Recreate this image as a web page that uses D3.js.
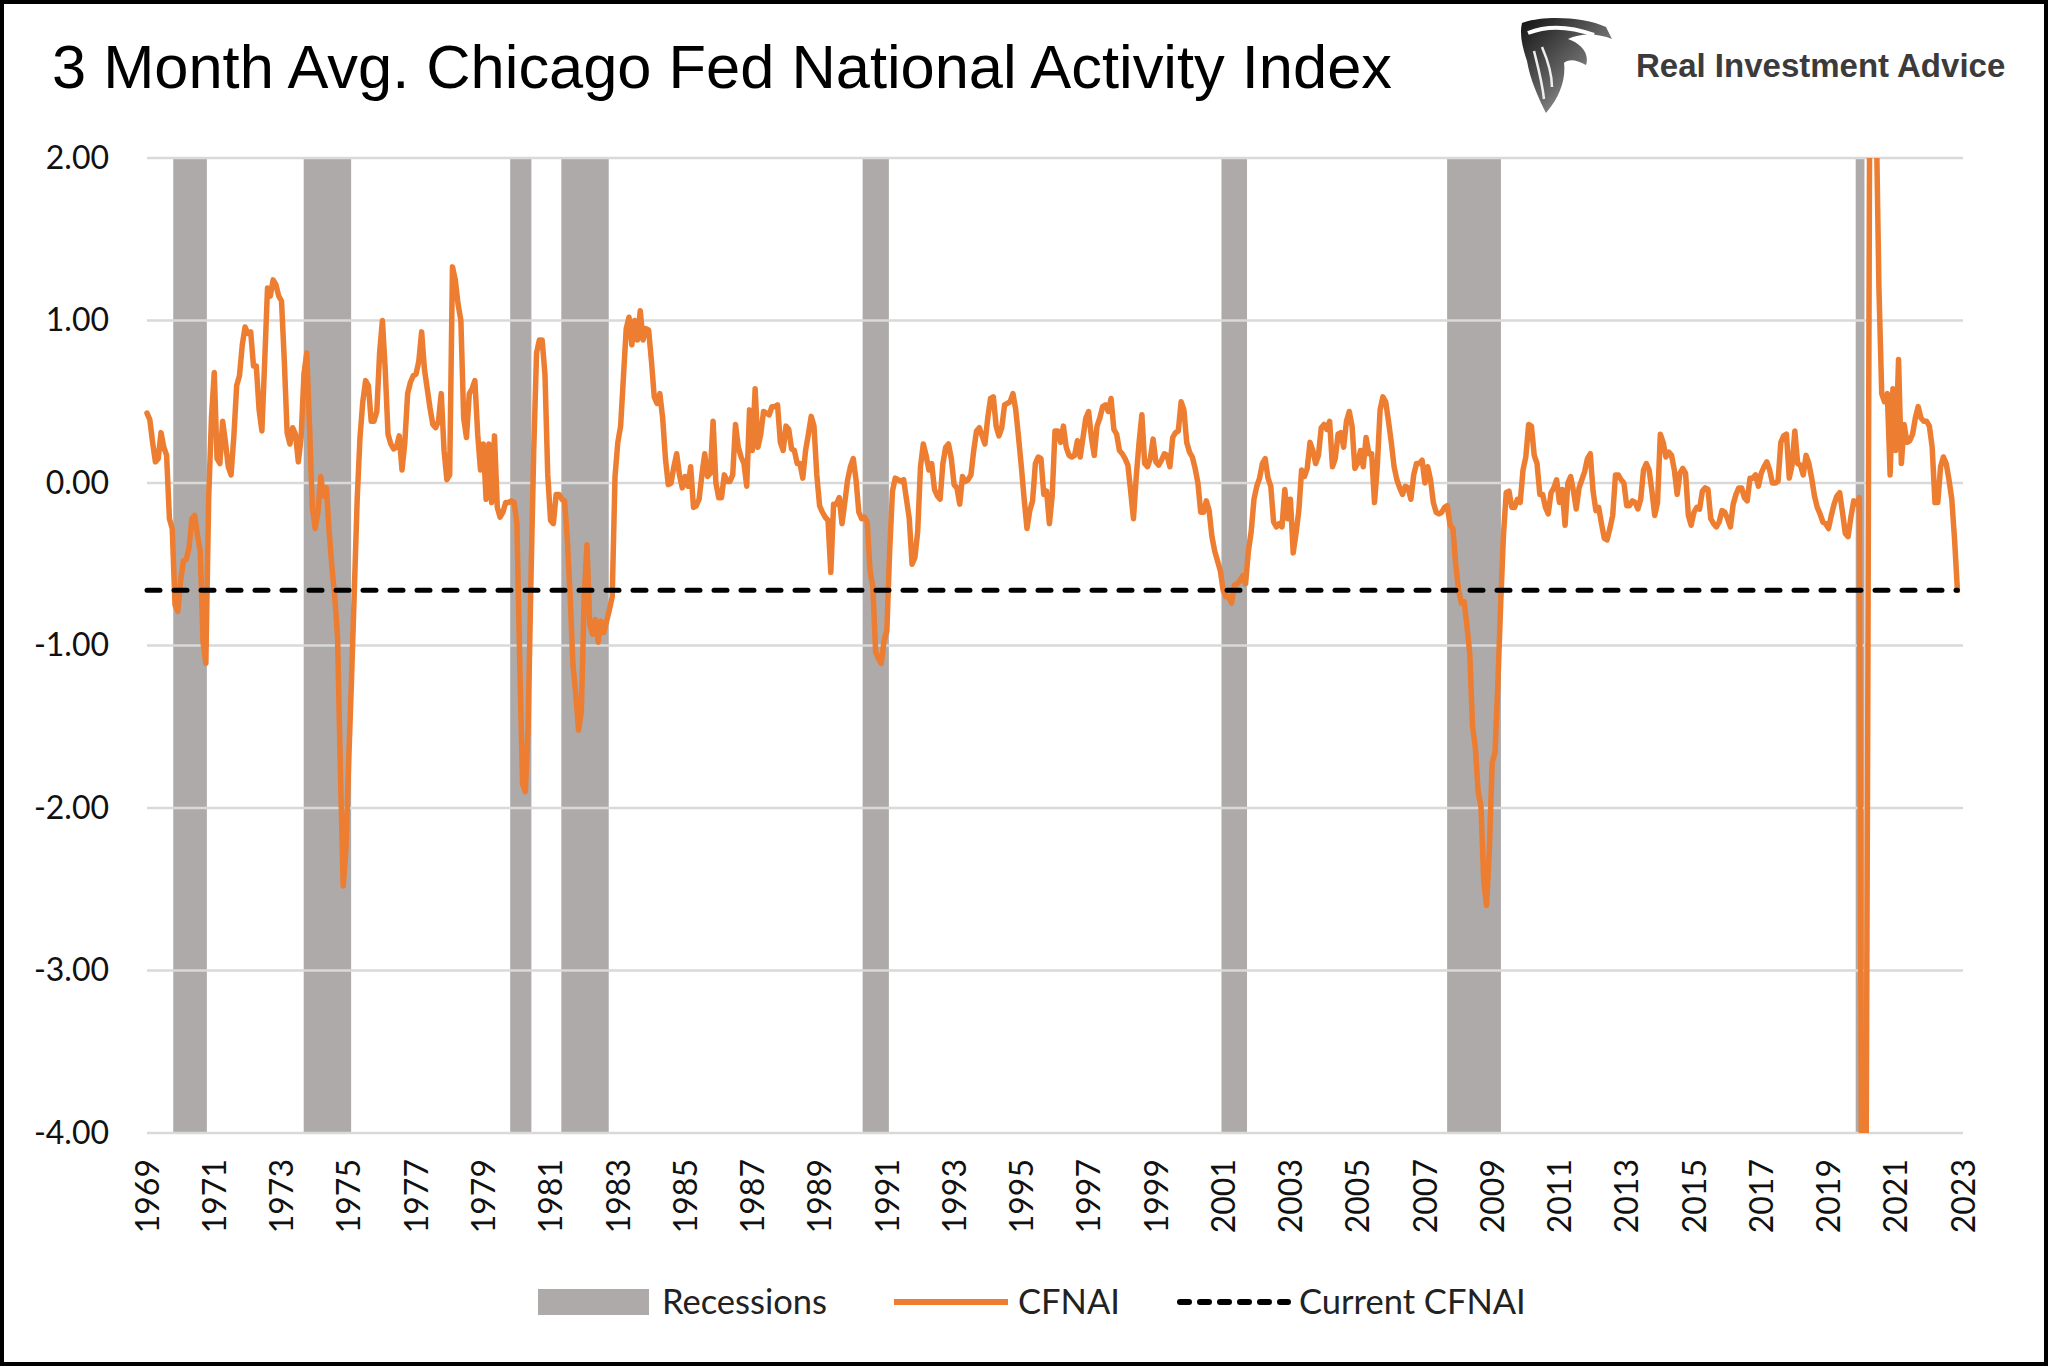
<!DOCTYPE html>
<html><head><meta charset="utf-8">
<script src="https://cdn.jsdelivr.net/npm/d3@7"></script>
<style>html,body{margin:0;padding:0;background:#fff}</style>
</head><body>
<svg id="chart" width="2048" height="1366"></svg>
<script>
// ---------- DATA ----------
const startYear = 1969; // monthly CFNAI 3-month average, first point Jan 1969
const cfnai1969_1977 = [
0.43,0.39,0.25,0.13,0.15,0.31,0.22,0.17,-0.22,-0.28,
-0.75,-0.79,-0.60,-0.48,-0.47,-0.40,-0.22,-0.20,-0.32,-0.42,
-0.98,-1.11,-0.10,0.40,0.68,0.15,0.12,0.38,0.25,0.10,
0.05,0.29,0.60,0.66,0.85,0.96,0.92,0.93,0.72,0.72,
0.45,0.32,0.75,1.20,1.15,1.25,1.22,1.15,1.12,0.75,
0.31,0.24,0.34,0.30,0.13,0.28,0.67,0.80,0.35,-0.15,
-0.28,-0.18,0.04,-0.08,-0.03,-0.30,-0.52,-0.70,-0.95,-1.76,
-2.48,-2.25,-1.70,-1.20,-0.65,-0.10,0.28,0.50,0.63,0.60,
0.38,0.38,0.44,0.80,1.00,0.70,0.30,0.24,0.21,0.22,
0.29,0.08,0.25,0.55,0.62,0.66,0.67,0.75,0.93,0.70,
0.58,0.46,0.36,0.34,0.38,0.55,0.20,0.02];
const cfnai1978_1986 = [
0.05,1.33,1.25,1.10,1.00,0.40,0.28,0.55,0.58,0.63,
0.30,0.08,0.24,-0.10,0.24,-0.12,0.29,-0.15,-0.21,-0.18,
-0.12,-0.12,-0.11,-0.12,-0.25,-1.10,-1.85,-1.90,-1.50,-0.60,
0.20,0.80,0.88,0.88,0.67,0.05,-0.23,-0.25,-0.07,-0.07,
-0.10,-0.11,-0.35,-0.70,-1.12,-1.30,-1.52,-1.40,-0.70,-0.38,
-0.87,-0.93,-0.84,-0.98,-0.85,-0.92,-0.85,-0.78,-0.70,0.04,
0.25,0.35,0.65,0.95,1.02,0.85,1.00,0.88,1.06,0.88,
0.95,0.94,0.75,0.53,0.49,0.55,0.40,0.15,-0.01,0.00,
0.10,0.18,0.05,-0.03,0.04,-0.02,0.10,-0.15,-0.14,-0.10,
0.05,0.18,0.04,0.06,0.38,0.00,-0.09,-0.09,0.05,0.01,
0.01,0.05,0.36,0.22,0.16,0.12,-0.02,0.45];
const cfnai1987_1995 = [
0.20,0.58,0.22,0.30,0.44,0.43,0.42,0.47,0.47,0.48,
0.25,0.20,0.35,0.33,0.21,0.20,0.12,0.12,0.03,0.20,
0.30,0.41,0.35,0.05,-0.14,-0.18,-0.21,-0.23,-0.55,-0.13,
-0.13,-0.09,-0.25,-0.12,0.02,0.10,0.15,0.02,-0.18,-0.22,
-0.21,-0.24,-0.54,-0.64,-1.04,-1.08,-1.11,-0.97,-0.91,-0.42,
-0.05,0.03,0.02,0.01,0.02,-0.10,-0.22,-0.50,-0.46,-0.30,
0.10,0.24,0.17,0.08,0.12,-0.04,-0.08,-0.10,0.12,0.22,
0.24,0.15,-0.01,-0.03,-0.13,0.04,0.01,0.02,0.05,0.20,
0.32,0.34,0.29,0.24,0.40,0.52,0.53,0.35,0.29,0.34,
0.48,0.49,0.50,0.55,0.45,0.28,0.10,-0.10,-0.28,-0.17,
-0.11,0.12,0.16,0.15,-0.07,-0.05,-0.25,-0.08];
const cfnai1996_2004 = [
0.32,0.32,0.25,0.35,0.22,0.17,0.16,0.17,0.26,0.16,
0.28,0.40,0.44,0.28,0.17,0.35,0.40,0.47,0.48,0.44,
0.52,0.33,0.30,0.20,0.18,0.15,0.11,-0.05,-0.22,0.04,
0.25,0.42,0.12,0.10,0.15,0.27,0.13,0.11,0.14,0.18,
0.17,0.10,0.28,0.31,0.32,0.50,0.45,0.25,0.19,0.16,
0.09,0.00,-0.18,-0.18,-0.11,-0.17,-0.33,-0.42,-0.48,-0.54,
-0.66,-0.70,-0.70,-0.74,-0.63,-0.62,-0.60,-0.57,-0.62,-0.42,
-0.30,-0.10,-0.02,0.03,0.12,0.15,0.03,-0.02,-0.24,-0.27,
-0.25,-0.27,-0.04,-0.22,-0.10,-0.43,-0.31,-0.17,0.08,0.04,
0.09,0.25,0.20,0.12,0.17,0.34,0.36,0.33,0.38,0.10,
0.15,0.30,0.31,0.22,0.38,0.44,0.35,0.09];
const cfnai2005_2013 = [
0.12,0.20,0.10,0.28,0.18,0.18,-0.12,0.10,0.45,0.53,
0.50,0.38,0.25,0.10,0.02,-0.03,-0.07,-0.02,-0.03,-0.10,
0.05,0.12,0.12,0.14,0.00,0.10,0.02,-0.12,-0.18,-0.19,
-0.18,-0.15,-0.14,-0.26,-0.28,-0.50,-0.66,-0.74,-0.73,-0.88,
-1.05,-1.50,-1.63,-1.90,-1.99,-2.45,-2.60,-2.25,-1.72,-1.66,
-1.25,-0.76,-0.33,-0.06,-0.05,-0.15,-0.15,-0.10,-0.12,0.08,
0.16,0.36,0.35,0.17,0.12,-0.07,-0.07,-0.15,-0.19,-0.06,
-0.03,0.02,-0.12,-0.04,-0.26,0.00,0.04,-0.05,-0.16,-0.03,
0.02,0.07,0.15,0.18,-0.05,-0.17,-0.15,-0.25,-0.34,-0.35,
-0.28,-0.20,0.05,0.05,0.02,0.00,-0.14,-0.14,-0.11,-0.12,
-0.16,-0.10,0.08,0.12,0.08,-0.05,-0.20,-0.12];
const cfnai2014_2022 = [
0.30,0.25,0.16,0.19,0.17,0.08,-0.07,0.06,0.09,0.06,
-0.20,-0.26,-0.18,-0.15,-0.16,-0.05,-0.03,-0.04,-0.22,-0.25,
-0.27,-0.24,-0.17,-0.18,-0.22,-0.27,-0.13,-0.07,-0.03,-0.03,
-0.09,-0.11,0.03,0.03,0.05,-0.02,0.06,0.10,0.13,0.08,
0.00,0.00,0.01,0.25,0.29,0.30,0.03,0.11,0.32,0.12,
0.11,0.05,0.17,0.12,0.03,-0.08,-0.15,-0.19,-0.24,-0.25,
-0.28,-0.20,-0.13,-0.08,-0.06,-0.18,-0.31,-0.33,-0.21,-0.11,
-0.13,-0.09,-5.50,-6.30,-1.50,4.00,3.50,2.30,1.20,0.55,
0.50,0.55,0.05,0.58,0.20,0.76,0.12,0.36,0.25,0.26,
0.30,0.40,0.47,0.40,0.38,0.38,0.35,0.22,-0.12,-0.12,
0.10,0.16,0.12,0.02,-0.10,-0.35,-0.66];
const recessionStarts = [1969.78, 1973.66, 1979.80, 1981.32, 1990.28, 2000.95, 2007.66, 2019.81];
const recessionEnds   = [1970.78, 1975.07, 1980.43, 1982.73, 1991.06, 2001.71, 2009.26, 2020.07];
const currentCFNAI = -0.66;
const yTicks = [2, 1, 0, -1, -2, -3, -4];
const xTickYears = [1969,1971,1973,1975,1977,1979,1981,1983,1985,1987,1989,1991,1993,1995,
                    1997,1999,2001,2003,2005,2007,2009,2011,2013,2015,2017,2019,2021,2023];
const legendLabels = ["Recessions", "CFNAI", "Current CFNAI"];
const titleText = "3 Month Avg. Chicago Fed National Activity Index";
const brandText = "Real Investment Advice";

// ---------- BUILD ----------
const values = [].concat(cfnai1969_1977, cfnai1978_1986, cfnai1987_1995,
                         cfnai1996_2004, cfnai2005_2013, cfnai2014_2022);
const series = values.map((v, i) => ({ t: startYear + i / 12, v }));

const svg = d3.select("#chart");
const W = 2048, H = 1366;
const plot = { left: 147, right: 1963, top: 158, bottom: 1133 };
const x = d3.scaleLinear().domain([1969, 2023]).range([plot.left, plot.right]);
const y = d3.scaleLinear().domain([-4, 2]).range([plot.bottom, plot.top]);

const ORANGE = "#ED7D31", GRAY = "#AEAAAA", GRID = "#D9D9D9";
const FONT = "Lato, 'Open Sans', sans-serif";

svg.append("rect").attr("width", W).attr("height", H).attr("fill", "#fff");

const defs = svg.append("defs");
defs.append("clipPath").attr("id", "plotClip").append("rect")
  .attr("x", plot.left - 10).attr("y", plot.top)
  .attr("width", plot.right - plot.left + 20).attr("height", plot.bottom - plot.top);
const grad = defs.append("linearGradient").attr("id", "logoGrad")
  .attr("x1", "0%").attr("y1", "0%").attr("x2", "100%").attr("y2", "100%");
grad.append("stop").attr("offset", "0%").attr("stop-color", "#111");
grad.append("stop").attr("offset", "55%").attr("stop-color", "#6a6a6a");
grad.append("stop").attr("offset", "100%").attr("stop-color", "#d0d0d0");

// Title
svg.append("text").attr("x", 52).attr("y", 88)
  .attr("font-family", "'Liberation Sans', Arial, sans-serif")
  .attr("font-size", 61.4).attr("fill", "#000").text(titleText);

// Logo
const logo = svg.append("g").attr("transform", "translate(1514,17)");
logo.append("path").attr("fill", "url(#logoGrad)")
  .attr("d", "M8,6 C30,-2 70,0 92,10 L98,22 C84,16 66,16 54,22 C66,26 76,36 72,48 C62,42 54,42 50,46 C52,62 46,80 32,96 C24,80 16,62 13,44 C9,32 5,18 8,6 Z");
logo.append("path").attr("fill", "none").attr("stroke", "#fff").attr("stroke-width", 4)
  .attr("d", "M14,16 C34,8 58,10 80,18");
logo.append("path").attr("fill", "none").attr("stroke", "#eee").attr("stroke-width", 2.5)
  .attr("d", "M20,34 C24,50 28,64 30,82 M28,30 C34,44 38,58 38,70");
svg.append("text").attr("x", 1636).attr("y", 77)
  .attr("font-family", "'Liberation Sans', Arial, sans-serif").attr("font-weight", "bold")
  .attr("font-size", 33).attr("fill", "#3b3b3b").text(brandText);

// Recession bands
svg.append("g").selectAll("rect").data(recessionStarts.map((s, i) => [s, recessionEnds[i]]))
  .join("rect")
  .attr("x", d => x(d[0])).attr("width", d => x(d[1]) - x(d[0]))
  .attr("y", plot.top).attr("height", plot.bottom - plot.top)
  .attr("fill", GRAY);

// Gridlines
svg.append("g").selectAll("line").data(yTicks).join("line")
  .attr("x1", plot.left).attr("x2", plot.right)
  .attr("y1", d => y(d)).attr("y2", d => y(d))
  .attr("stroke", GRID).attr("stroke-width", 2.5);

// Y axis
const yAxis = svg.append("g").attr("transform", `translate(${plot.left},0)`)
  .call(d3.axisLeft(y).tickValues(yTicks).tickFormat(d => d.toFixed(2)).tickSize(0).tickPadding(38));
yAxis.select(".domain").remove();
yAxis.selectAll("text").attr("font-family", FONT).attr("font-size", 32).attr("fill", "#111");

// X axis
const xAxis = svg.append("g").attr("transform", `translate(0,${plot.bottom})`)
  .call(d3.axisBottom(x).tickValues(xTickYears).tickFormat(d => String(d)).tickSize(0));
xAxis.select(".domain").remove();
xAxis.selectAll("text")
  .attr("font-family", FONT).attr("font-size", 32).attr("fill", "#111")
  .attr("y", 0).attr("x", -26).attr("dy", "0.35em")
  .attr("transform", "rotate(-90)").style("text-anchor", "end");

// CFNAI line
const line = d3.line().x(d => x(d.t)).y(d => y(d.v));
svg.append("path").datum(series).attr("clip-path", "url(#plotClip)")
  .attr("d", line).attr("fill", "none").attr("stroke", ORANGE)
  .attr("stroke-width", 5.5).attr("stroke-linejoin", "round").attr("stroke-linecap", "round");

// Current CFNAI dashed line
const lastT = series[series.length - 1].t;
svg.append("line")
  .attr("x1", x(startYear)).attr("x2", x(lastT))
  .attr("y1", y(currentCFNAI)).attr("y2", y(currentCFNAI))
  .attr("stroke", "#000").attr("stroke-width", 5)
  .attr("stroke-dasharray", "13 14").attr("stroke-linecap", "round");

// Legend
const lg = svg.append("g").attr("font-family", FONT).attr("font-size", 34.5).attr("fill", "#222");
const ly = 1302;
lg.append("rect").attr("x", 538).attr("y", ly - 13).attr("width", 111).attr("height", 26).attr("fill", GRAY);
lg.append("text").attr("x", 662).attr("y", ly).attr("dy", "0.35em").text(legendLabels[0]);
lg.append("line").attr("x1", 894).attr("x2", 1008).attr("y1", ly).attr("y2", ly)
  .attr("stroke", ORANGE).attr("stroke-width", 6);
lg.append("text").attr("x", 1018).attr("y", ly).attr("dy", "0.35em").text(legendLabels[1]);
lg.append("line").attr("x1", 1180).attr("x2", 1288).attr("y1", ly).attr("y2", ly)
  .attr("stroke", "#000").attr("stroke-width", 6)
  .attr("stroke-dasharray", "9 11").attr("stroke-linecap", "round");
lg.append("text").attr("x", 1299).attr("y", ly).attr("dy", "0.35em").text(legendLabels[2]);

// Outer border
svg.append("rect").attr("x", 2).attr("y", 2).attr("width", W - 4).attr("height", H - 4)
  .attr("fill", "none").attr("stroke", "#000").attr("stroke-width", 4);
</script>
</body></html>
